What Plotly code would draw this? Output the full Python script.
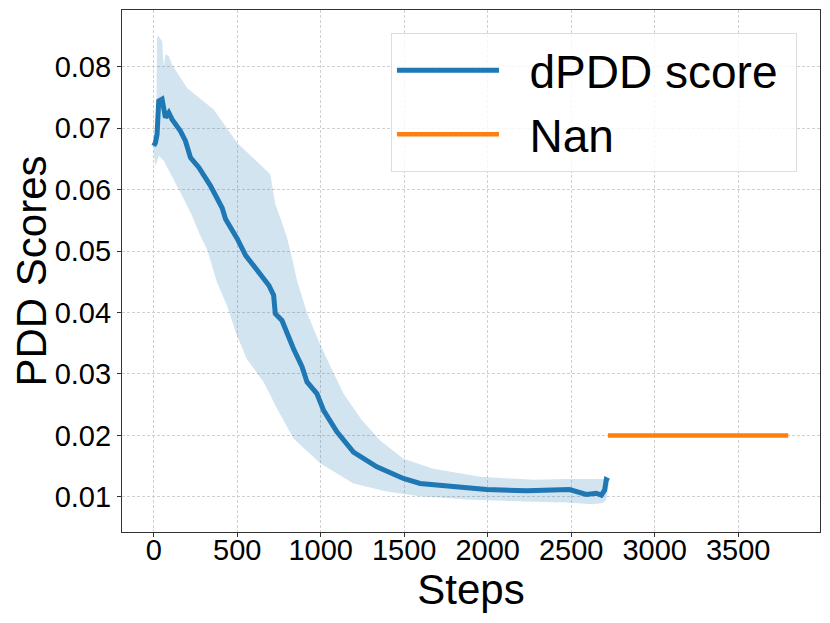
import plotly.graph_objects as go

# mean curve (dPDD score)
mean_steps = [0, 10, 20, 30, 50, 70, 90, 110, 160, 190, 220, 270, 340, 410, 430, 500,
              550, 610, 690, 718, 728, 768, 798, 837, 888, 918, 977, 1017, 1097, 1196,
              1336, 1495, 1595, 1794, 1993, 2232, 2490, 2590, 2650, 2680, 2700, 2710, 2725]
mean_vals = [0.0671, 0.0676, 0.0690, 0.0744, 0.0747, 0.0717, 0.0725, 0.0714, 0.0695, 0.0679,
             0.0652, 0.0636, 0.0606, 0.0570, 0.0552, 0.0520, 0.0493, 0.0471, 0.0444, 0.0428,
             0.0398, 0.0387, 0.0366, 0.0341, 0.0312, 0.0287, 0.0268, 0.0241, 0.0206, 0.0173,
             0.0149, 0.0130, 0.0122, 0.0116, 0.0112, 0.0110, 0.0112, 0.0104, 0.0106, 0.0103,
             0.0111, 0.0128, 0.0126]

# shaded band, upper edge
upper_steps = [0, 15, 20, 30, 50, 60, 70, 90, 110, 200, 359, 499, 698, 708, 728, 758, 798,
               828, 858, 918, 987, 1057, 1137, 1246, 1356, 1495, 1674, 1954, 2272, 2471,
               2670, 2710, 2725]
upper_vals = [0.0685, 0.0700, 0.0849, 0.0849, 0.0841, 0.0800, 0.0820, 0.0817, 0.0803, 0.0765,
              0.0730, 0.0676, 0.0625, 0.0608, 0.0576, 0.0554, 0.0522, 0.0489, 0.0452, 0.0399,
              0.0354, 0.0313, 0.0268, 0.0225, 0.0192, 0.0162, 0.0146, 0.0133, 0.0128, 0.0129,
              0.0130, 0.0129, 0.0127]

# shaded band, lower edge
lower_steps = [0, 10, 30, 60, 90, 110, 140, 170, 220, 279, 319, 379, 439, 499, 558, 658, 738,
               837, 997, 1196, 1395, 1594, 1873, 2272, 2471, 2630, 2690, 2710, 2725]
lower_vals = [0.0660, 0.0638, 0.0655, 0.0647, 0.0633, 0.0622, 0.0606, 0.0590, 0.0563, 0.0525,
              0.0503, 0.0449, 0.0411, 0.0362, 0.0324, 0.0287, 0.0244, 0.0195, 0.0155, 0.0122,
              0.0109, 0.0101, 0.0096, 0.0092, 0.0091, 0.0088, 0.0090, 0.0095, 0.0120]

# Nan line
nan_steps = [2720, 3800]
nan_vals = [0.02, 0.02]

x_ticks = [0, 500, 1000, 1500, 2000, 2500, 3000, 3500]
y_ticks = [0.01, 0.02, 0.03, 0.04, 0.05, 0.06, 0.07, 0.08]

FONT = "Liberation Sans, Arial, sans-serif"
PAD = "\u00a0\u00a0"

fig = go.Figure()

fig.add_trace(go.Scatter(x=upper_steps + lower_steps[::-1],
                         y=upper_vals + lower_vals[::-1],
                         fill='toself', fillcolor='rgba(31,119,180,0.2)',
                         line=dict(width=0), mode='lines',
                         showlegend=False, hoverinfo='skip'))

fig.add_trace(go.Scatter(x=mean_steps, y=mean_vals, mode='lines',
                         line=dict(color='#1f77b4', width=5),
                         name=PAD + 'dPDD score\u00a0', legendgroup='a'))

fig.add_trace(go.Scatter(x=nan_steps, y=nan_vals, mode='lines',
                         line=dict(color='#ff7f0e', width=4.5),
                         name=PAD + 'Nan', legendgroup='b'))

axis_common = dict(showline=True, linecolor='#333333', linewidth=1.2, mirror=True,
                   ticks='outside', ticklen=4, tickcolor='#333333', automargin=False,
                   showgrid=True, gridcolor='#d0d0d0', griddash='3px,2px', gridwidth=1,
                   zeroline=False, tickfont=dict(size=29, color='black', family=FONT))

fig.update_xaxes(axis_common, range=[-190, 3990], tickvals=x_ticks, ticklabelstandoff=-12,
                 title=dict(text='Steps', font=dict(size=42, color='black', family=FONT),
                            standoff=0))
fig.update_yaxes(axis_common, range=[0.0043, 0.0892], tickvals=y_ticks, tickformat='.2f',
                 title=dict(text='PDD Scores', font=dict(size=42, color='black', family=FONT),
                            standoff=0))

# page body has an 8px margin, so the figure is sized to leave room for it
fig.update_layout(
    width=814, height=607,
    plot_bgcolor='white', paper_bgcolor='white',
    margin=dict(l=114, r=2, t=2, b=83),
    font=dict(family=FONT, color='black'),
    legend=dict(x=0.967, y=0.956, xanchor='right', yanchor='top',
                bgcolor='rgba(255,255,255,0.8)', bordercolor='#dddddd', borderwidth=1,
                font=dict(size=46, family=FONT, color='black'),
                itemwidth=102, tracegroupgap=1),
)

fig.write_html("out.html")
